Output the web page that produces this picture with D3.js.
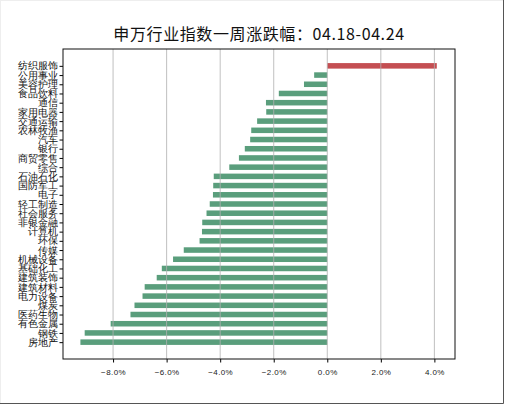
<!DOCTYPE html>
<html>
<head>
<meta charset="utf-8">
<script src="https://cdn.jsdelivr.net/npm/d3@7"></script>
<style>
  body { margin: 0; background: #fff; }
  svg { display: block; font-family: "Noto Sans CJK SC", "DejaVu Sans", sans-serif; }
</style>
</head>
<body>
<div id="plot"></div>
<script>
const categories = ["纺织服饰", "公用事业", "美容护理", "食品饮料", "通信", "家用电器", "交通运输", "农林牧渔",
  "汽车", "银行", "商贸零售", "综合", "石油石化", "国防军工", "电子", "轻工制造", "社会服务", "非银金融",
  "计算机", "环保", "传媒", "机械设备", "基础化工", "建筑装饰", "建筑材料", "电力设备", "煤炭", "医药生物",
  "有色金属", "钢铁", "房地产"];
const changes = [4.09, -0.49, -0.87, -1.81, -2.29, -2.28, -2.62, -2.84,
  -2.88, -3.08, -3.30, -3.66, -4.24, -4.26, -4.27, -4.39, -4.51, -4.67,
  -4.68, -4.77, -5.36, -5.76, -6.18, -6.37, -6.82, -6.90, -7.20, -7.35,
  -8.09, -9.06, -9.22];
const xTicks = [-8, -6, -4, -2, 0, 2, 4];
const title = "申万行业指数一周涨跌幅：04.18-04.24";

const width = 506;
const height = 405;
const margin = { top: 49, right: 51, bottom: 46, left: 63 };
const barHeight = 0.6;

const svg = d3.select("#plot")
  .append("svg")
  .attr("width", width)
  .attr("height", height);

// outer frame of the picture (right and bottom edges show)
svg.append("rect")
  .attr("x", 0.5).attr("y", 0.5)
  .attr("width", 503).attr("height", 403)
  .attr("fill", "none")
  .attr("stroke", "#eee");
svg.append("path")
  .attr("d", "M503.5,0V403.5H0")
  .attr("fill", "none")
  .attr("stroke", "#555");

const x = d3.scaleLinear()
  .domain([-9.87, 4.77])
  .range([margin.left, width - margin.right]);

const y = d3.scaleLinear()
  .domain([-1.83, categories.length - 1 + 1.83])
  .range([margin.top, height - margin.bottom]);

// bars
svg.append("g")
  .selectAll("rect")
  .data(changes)
  .join("rect")
  .attr("x", d => x(Math.min(0, d)))
  .attr("y", (d, i) => y(i - barHeight / 2))
  .attr("width", d => Math.abs(x(d) - x(0)))
  .attr("height", y(barHeight) - y(0))
  .attr("fill", d => d >= 0 ? "#c44e52" : "#5a9e7c");

// vertical grid
svg.append("g")
  .selectAll("line")
  .data(xTicks)
  .join("line")
  .attr("x1", d => x(d)).attr("x2", d => x(d))
  .attr("y1", margin.top).attr("y2", height - margin.bottom)
  .attr("stroke", "#b0b0b0")
  .attr("stroke-opacity", 0.8)
  .attr("stroke-width", 1);

// x axis
const xAxis = svg.append("g")
  .attr("transform", `translate(0,${height - margin.bottom})`)
  .call(d3.axisBottom(x).tickValues(xTicks).tickSize(3.5).tickPadding(7)
    .tickFormat(d => d3.format(".1f")(d) + "%"));
xAxis.select(".domain").remove();
xAxis.selectAll("text").attr("font-size", 8).attr("fill", "#222").attr("letter-spacing", 0.4);

// y axis
const yAxis = svg.append("g")
  .attr("transform", `translate(${margin.left},0)`)
  .call(d3.axisLeft(y).tickValues(d3.range(categories.length)).tickSize(3.5).tickPadding(2)
    .tickFormat(i => categories[i]));
yAxis.select(".domain").remove();
yAxis.selectAll("text").attr("font-size", 9.8).attr("fill", "#111");

// plot frame
svg.append("rect")
  .attr("x", margin.left).attr("y", margin.top)
  .attr("width", width - margin.left - margin.right)
  .attr("height", height - margin.top - margin.bottom)
  .attr("fill", "none")
  .attr("stroke", "#111")
  .attr("stroke-width", 1);

// title
svg.append("text")
  .attr("x", (margin.left + width - margin.right) / 2)
  .attr("y", 40)
  .attr("text-anchor", "middle")
  .attr("font-size", 16)
  .attr("letter-spacing", 0.6)
  .attr("fill", "#111")
  .text(title);
</script>
</body>
</html>
